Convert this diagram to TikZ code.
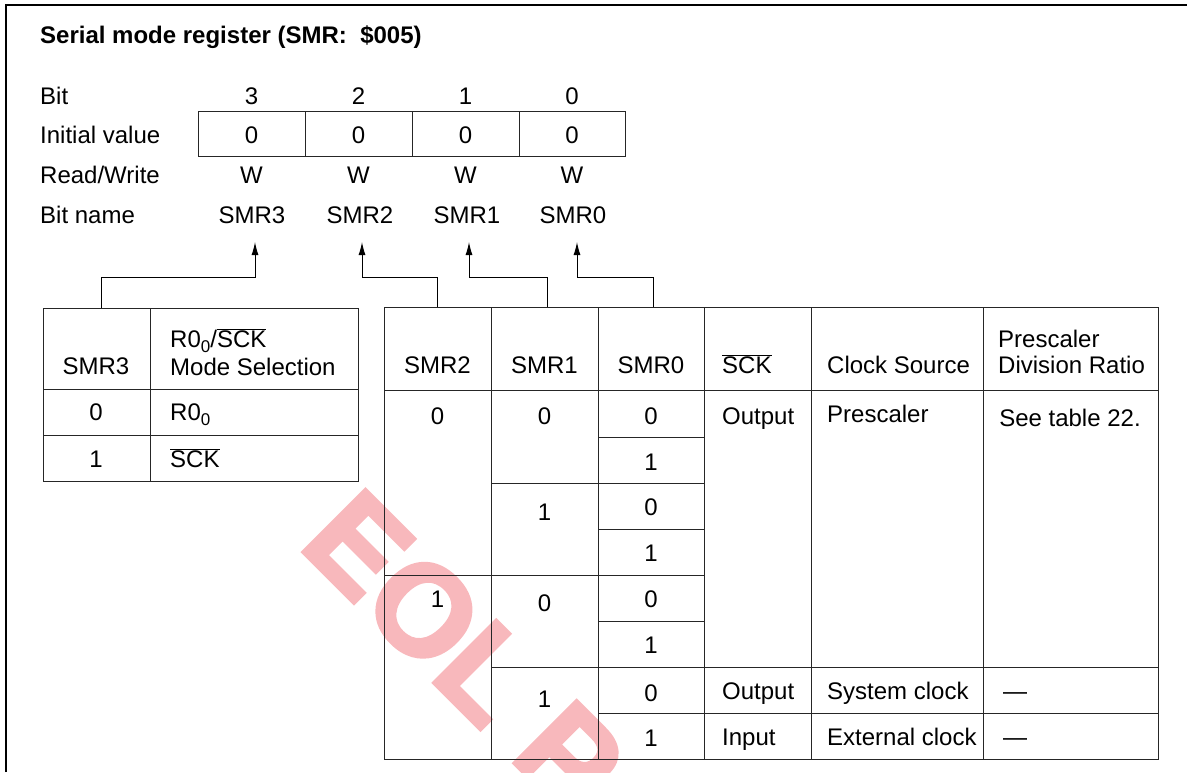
\documentclass[tikz,border=0pt]{standalone}
\usepackage{fontspec}
\setmainfont{Liberation Sans}
\newfontfamily\wmfont[FakeBold=3]{Liberation Sans Bold}
\usetikzlibrary{arrows.meta,calc}
\definecolor{wm}{RGB}{248,184,188}
\newcommand{\sckbar}{$\overline{\hbox{SCK}}$}
\newcommand{\rzero}{R0\raisebox{-5pt}{\fontsize{17}{17}\selectfont 0}}
\begin{document}
\begin{tikzpicture}[x=1pt,y=-1pt,
  every node/.style={inner sep=0pt,font=\fontsize{24}{29}\selectfont},
  cb/.style={anchor=base},
  lb/.style={anchor=base west},
  grid/.style={line width=1pt,draw=black!85},
  frame/.style={line width=1.6pt},
  conn/.style={line width=1pt,-{Latex[length=13pt,width=7pt]}}]
\useasboundingbox (0,0) rectangle (1187,772);
\clip (0,0) rectangle (1187,772);

% watermark
\node[rotate=-45,anchor=base west,text=wm,font=\fontsize{128}{128}\wmfont] (wmk) at (297,546) {EOL Product};

% frame
\draw[frame] (6,772) -- (6,5) -- (1187,5);

% title
\node[lb,font=\fontsize{24}{29}\selectfont\bfseries] (title) at (40,43) {Serial mode register (SMR:\ \ \$005)};

% row labels
\node[lb] (lbit) at (40,104) {Bit};
\node[lb] (linit) at (40,143) {Initial value};
\node[lb] (lrw) at (40,183) {Read/Write};
\node[lb] (lname) at (40,223) {Bit name};

% register box
\draw[grid] (198,111) rectangle (625,156);
\foreach \x in {305,412,519} \draw[grid] (\x,111) -- (\x,156);

\foreach \x/\b/\n in {251.5/3/3,358.5/2/2,465.5/1/1,572/0/0}{
  \node[cb] (b\n) at (\x,104) {\b};
  \node[cb] (i\n) at (\x,143) {0};
  \node[cb] (w\n) at (\x,183) {W};
}
\node[cb] (n3) at (252,223) {SMR3};
\node[cb] (n2) at (360,223) {SMR2};
\node[cb] (n1) at (467,223) {SMR1};
\node[cb] (n0) at (573,223) {SMR0};

% connectors
\coordinate (s3) at (101,308); \coordinate (e3) at (255,242);
\coordinate (s2) at (437,307); \coordinate (e2) at (362,242);
\coordinate (s1) at (547,307); \coordinate (e1) at (469,242);
\coordinate (s0) at (653,307); \coordinate (e0) at (577,242);
\foreach \k in {3,2,1,0}{
  \draw[conn] (s\k) |- ($(e\k)+(0,35)$) -- (e\k);
}

% left table
\draw[grid] (43,308) rectangle (358,481);
\draw[grid] (150,308) -- (150,481);
\draw[grid] (43,389) -- (358,389);
\draw[grid] (43,435) -- (358,435);
\node[cb] (h3) at (96,374) {SMR3};
\node[lb] (hm1) at (170,347) {\rzero/\sckbar};
\node[lb] (hm2) at (170,375) {Mode Selection};
\node[cb] (l0) at (96,420) {0};
\node[lb] (l0t) at (170,420) {\rzero};
\node[cb] (l1) at (96,467) {1};
\node[lb] (l1t) at (170,467) {\sckbar};

% right table
\draw[grid] (384,307) rectangle (1158,759);
\draw[grid] (384,390) -- (1158,390);
\foreach \x in {491,598,704,811,983} \draw[grid] (\x,307) -- (\x,759);
\foreach \y in {437,483,529,575,621,667,713} \draw[grid] (598,\y) -- (704,\y);
\foreach \y in {483,575,667} \draw[grid] (491,\y) -- (598,\y);
\draw[grid] (384,575) -- (491,575);
\draw[grid] (704,667) -- (1158,667);
\draw[grid] (704,713) -- (1158,713);

% headers
\node[cb] (hs2) at (437.5,373) {SMR2};
\node[cb] (hs1) at (544.5,373) {SMR1};
\node[cb] (hs0) at (651,373) {SMR0};
\node[lb] (hsck) at (722,373) {\sckbar};
\node[lb] (hcs) at (827,373) {Clock Source};
\node[lb] (hp1) at (998,347) {Prescaler};
\node[lb] (hp2) at (998,373) {Division Ratio};

% SMR2 values
\node[cb] (r2a) at (437.5,424) {0};
\node[cb] (r2b) at (437.5,607) {1};
% SMR1 values
\node[cb] (r1a) at (544.5,424) {0};
\node[cb] (r1b) at (544.5,520) {1};
\node[cb] (r1c) at (544.5,611) {0};
\node[cb] (r1d) at (544.5,707) {1};
% SMR0 values
\foreach \y/\v/\k in {424/0/1,470/1/2,515/0/3,561/1/4,607/0/5,653/1/6,701/0/7,746/1/8}
  \node[cb] (r0\k) at (651,\y) {\v};

% SCK / clock source / ratio
\node[lb] (sk1) at (722,424) {Output};
\node[lb] (sk7) at (722,699) {Output};
\node[lb] (sk8) at (722,745) {Input};
\node[lb] (cs1) at (827,422) {Prescaler};
\node[lb] (cs7) at (827,699) {System clock};
\node[lb] (cs8) at (827,745) {External clock};
\node[cb] (pr1) at (1070,426) {See table 22.};
\node[lb] (pr7) at (1003,699) {—};
\node[lb] (pr8) at (1003,745) {—};
\end{tikzpicture}
\end{document}
